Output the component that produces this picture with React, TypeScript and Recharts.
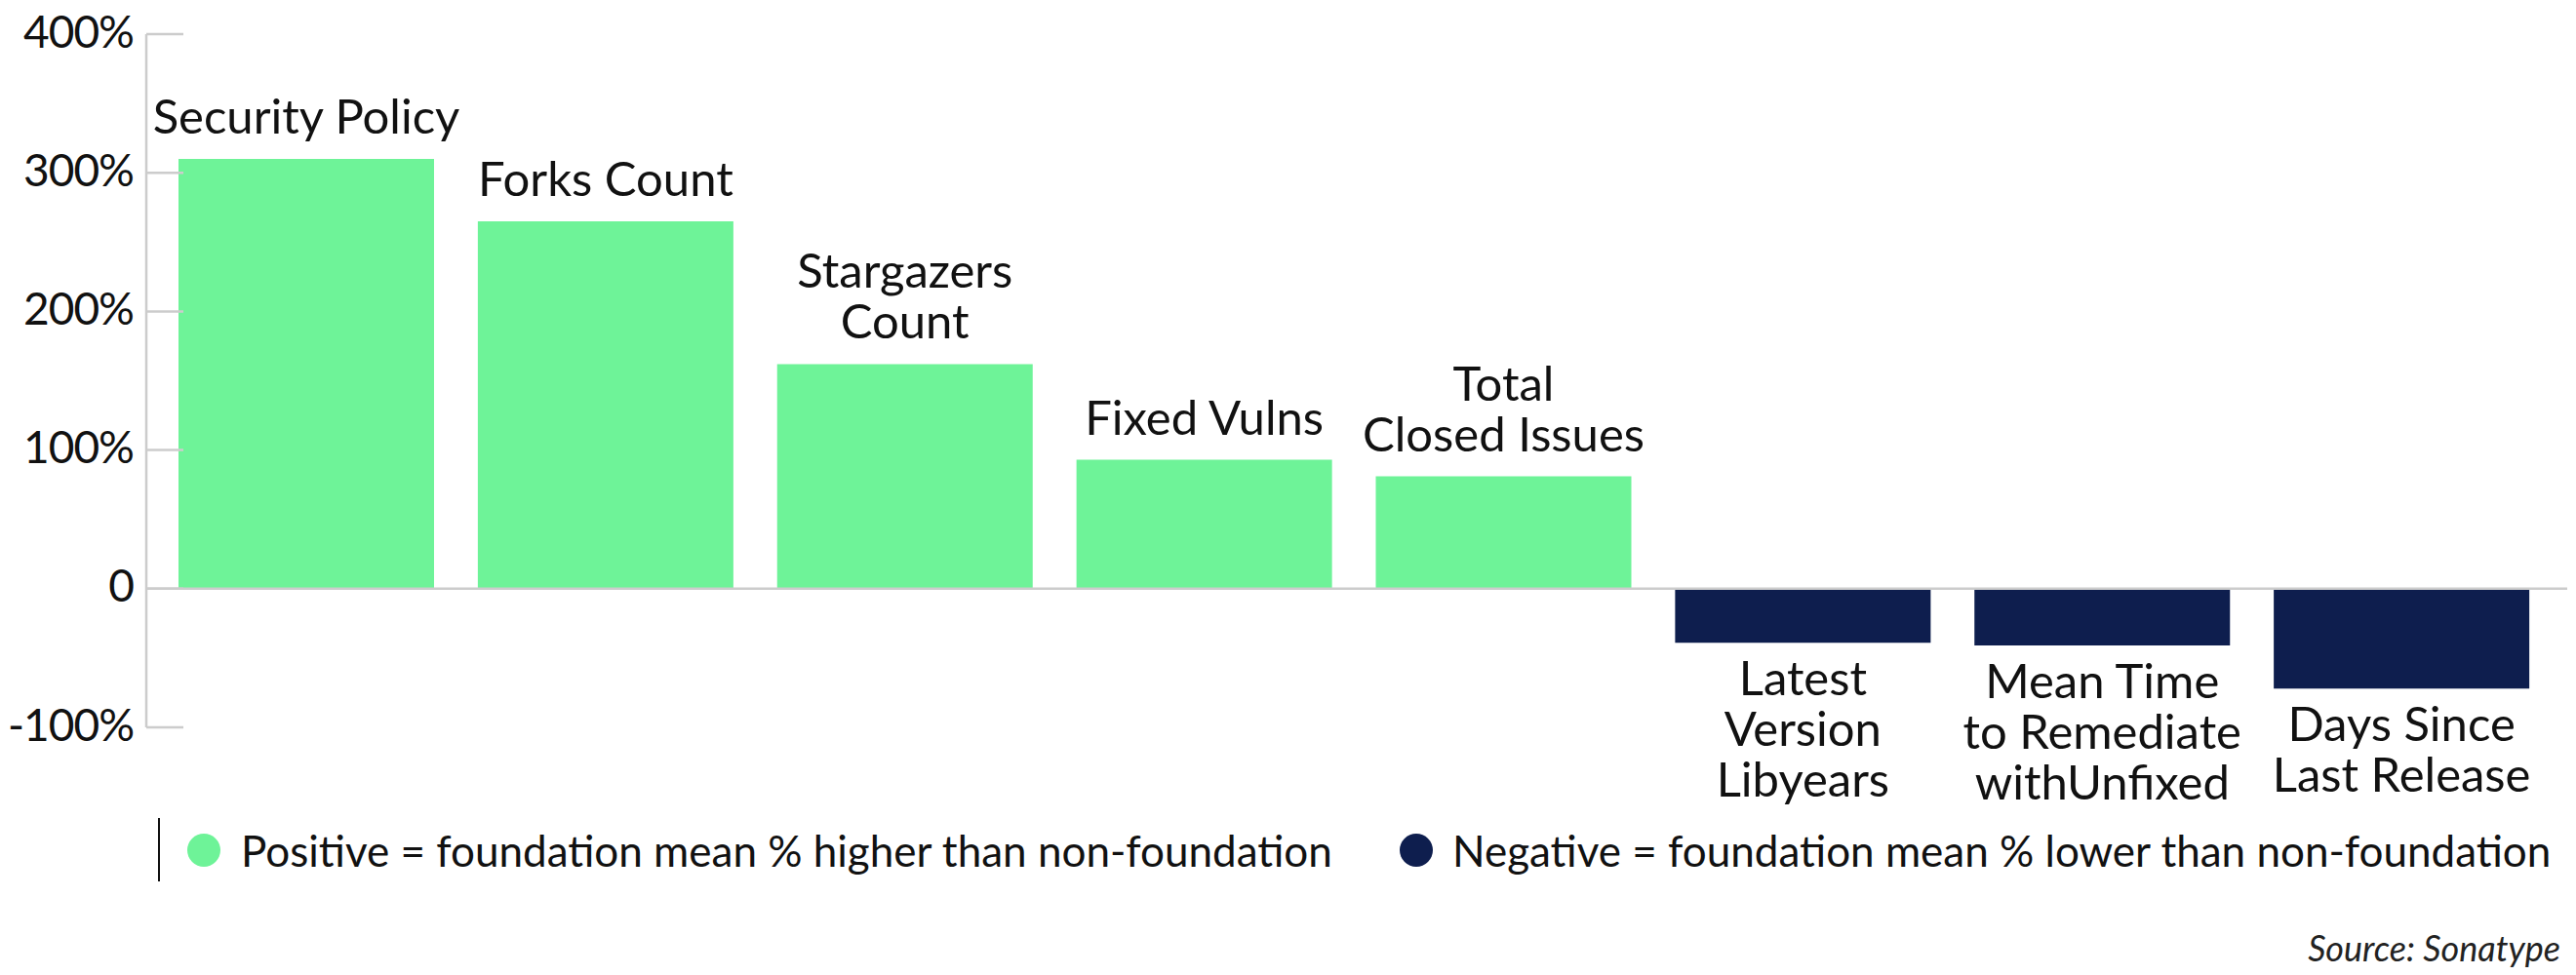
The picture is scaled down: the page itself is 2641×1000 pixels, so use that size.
import React from "react";
import {
  BarChart,
  Bar,
  XAxis,
  YAxis,
  ReferenceLine,
  LabelList,
  Cell,
} from "recharts";

const categories = [
  "Security Policy",
  "Forks Count",
  "Stargazers\nCount",
  "Fixed Vulns",
  "Total\nClosed Issues",
  "Latest\nVersion\nLibyears",
  "Mean Time\nto Remediate\nwithUnfixed",
  "Days Since\nLast Release",
];
const diffPct = [310, 265, 162, 93, 81, -39, -41, -72];
const yTicks = [-100, 0, 100, 200, 300, 400];

const GREEN = "#6ef398";
const NAVY = "#0e1e4e";
const FONT = "Lato, 'Noto Sans', sans-serif";

const data = categories.map((name, i) => ({ name, value: diffPct[i] }));

const fmtTick = (v: number) => (v === 0 ? "0" : `${v}%`);

function YTick(props: any) {
  const { x, y, payload } = props;
  return (
    <g>
      <line x1={x} x2={x + 38} y1={y} y2={y} stroke="#cccccc" strokeWidth={2.5} />
      <text
        x={x - 13}
        y={y - 4}
        textAnchor="end"
        dominantBaseline="central"
        fontSize={46}
        letterSpacing={-1}
        fontFamily={FONT}
        fill="#111"
      >
        {fmtTick(payload.value)}
      </text>
    </g>
  );
}

function BarLabel(props: any) {
  const { x, y, width, height, value } = props;
  const lines = String(value).split("\n");
  const idx = categories.indexOf(String(value));
  const v = diffPct[idx];
  const top = Math.min(y, y + height);
  const bottom = Math.max(y, y + height);
  const cx = x + width / 2;
  const lh = 52;
  return (
    <text textAnchor="middle" fontSize={49} fontFamily={FONT} fill="#111">
      {lines.map((ln, i) => {
        const by =
          v >= 0
            ? top - 26 - (lines.length - 1 - i) * lh
            : bottom + 54 + i * lh;
        return (
          <tspan key={i} x={cx} y={by}>
            {ln}
          </tspan>
        );
      })}
    </text>
  );
}

export default function App() {
  return (
    <div style={{ position: "relative", width: 2625, height: 984, fontFamily: FONT }}>
      <BarChart
        width={2625}
        height={984}
        data={data}
        margin={{ top: 27, right: 1, bottom: 246, left: 0 }}
      >
        <XAxis dataKey="name" hide padding={{ left: 11, right: 16 }} />
        <YAxis
          width={142}
          domain={[-100, 400]}
          ticks={yTicks}
          interval={0}
          tickSize={0}
          tickMargin={0}
          tickLine={false}
          axisLine={{ stroke: "#cccccc", strokeWidth: 2.5 }}
          tick={<YTick />}
        />
        <ReferenceLine y={0} stroke="#cccccc" strokeWidth={2.5} />
        <Bar dataKey="value" barSize={262} isAnimationActive={false}>
          {data.map((d, i) => (
            <Cell key={i} fill={d.value >= 0 ? GREEN : NAVY} />
          ))}
          <LabelList dataKey="name" content={<BarLabel />} />
        </Bar>
      </BarChart>

      {/* legend */}
      <div
        style={{
          position: "absolute",
          left: 154,
          top: 831,
          width: 2,
          height: 65,
          background: "#111",
        }}
      />
      <div
        style={{
          position: "absolute",
          left: 184,
          top: 847,
          width: 34,
          height: 34,
          borderRadius: "50%",
          background: GREEN,
        }}
      />
      <div
        style={{
          position: "absolute",
          left: 239,
          top: 838,
          fontSize: 44,
          lineHeight: "52px",
          color: "#111",
          whiteSpace: "nowrap",
        }}
      >
        Positive = foundation mean % higher than non-foundation
      </div>
      <div
        style={{
          position: "absolute",
          left: 1427,
          top: 847,
          width: 34,
          height: 34,
          borderRadius: "50%",
          background: NAVY,
        }}
      />
      <div
        style={{
          position: "absolute",
          left: 1481,
          top: 838,
          fontSize: 44,
          lineHeight: "52px",
          color: "#111",
          whiteSpace: "nowrap",
        }}
      >
        Negative = foundation mean % lower than non-foundation
      </div>

      <div
        style={{
          position: "absolute",
          right: 8,
          top: 945,
          fontSize: 36,
          lineHeight: "38px",
          fontStyle: "italic",
          color: "#222",
          whiteSpace: "nowrap",
        }}
      >
        Source: Sonatype
      </div>
    </div>
  );
}
